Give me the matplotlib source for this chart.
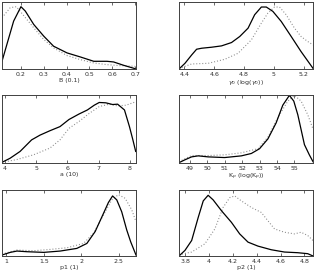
import numpy as np
import matplotlib
matplotlib.use('Agg')
import matplotlib.pyplot as plt

# posterior (solid) and prior (dotted) densities, normalised to axes height
B_x = [0.117, 0.168, 0.2, 0.219, 0.256, 0.3, 0.343, 0.402, 0.46, 0.519, 0.577, 0.606, 0.65, 0.7]
B_y = [0.115, 0.715, 0.93, 0.865, 0.665, 0.49, 0.34, 0.24, 0.18, 0.115, 0.115, 0.105, 0.055, 0.005]
B_px = [0.117, 0.153, 0.18, 0.256, 0.3, 0.343, 0.402, 0.46, 0.519, 0.577, 0.635, 0.7]
B_py = [0.765, 0.915, 0.93, 0.615, 0.44, 0.315, 0.2, 0.14, 0.09, 0.065, 0.05, 0.04]

g_x = [4.364, 4.404, 4.449, 4.482, 4.516, 4.582, 4.649, 4.716, 4.771, 4.827, 4.871, 4.916, 4.949, 4.993, 5.049, 5.116, 5.182, 5.238, 5.262]
g_y = [0.0, 0.085, 0.21, 0.295, 0.31, 0.325, 0.345, 0.395, 0.485, 0.61, 0.81, 0.925, 0.925, 0.86, 0.71, 0.485, 0.26, 0.085, 0.01]
g_px = [4.364, 4.449, 4.56, 4.671, 4.76, 4.849, 4.916, 4.96, 5.004, 5.038, 5.082, 5.138, 5.182, 5.227, 5.262]
g_py = [0.01, 0.075, 0.085, 0.145, 0.235, 0.435, 0.685, 0.835, 0.925, 0.925, 0.81, 0.61, 0.485, 0.41, 0.36]

a_x = [3.9, 4.16, 4.48, 4.85, 5.12, 5.44, 5.76, 6.05, 6.37, 6.64, 6.86, 7.02, 7.23, 7.45, 7.61, 7.83, 7.99, 8.1, 8.19]
a_y = [0.01, 0.07, 0.17, 0.34, 0.41, 0.475, 0.535, 0.64, 0.72, 0.78, 0.85, 0.89, 0.885, 0.86, 0.865, 0.78, 0.535, 0.34, 0.17]
a_px = [3.9, 4.37, 4.91, 5.44, 5.76, 6.05, 6.37, 6.7, 7.02, 7.34, 7.61, 7.88, 8.19]
a_py = [0.01, 0.05, 0.12, 0.22, 0.34, 0.51, 0.61, 0.73, 0.83, 0.865, 0.84, 0.85, 0.9]

K_x = [48.39, 48.73, 49.11, 49.49, 50.06, 51.0, 51.96, 52.53, 53.0, 53.48, 53.95, 54.33, 54.71, 54.96, 55.19, 55.57, 55.85, 56.06]
K_y = [0.005, 0.047, 0.09, 0.105, 0.09, 0.08, 0.105, 0.14, 0.21, 0.355, 0.59, 0.85, 0.995, 0.91, 0.71, 0.27, 0.12, 0.02]
K_px = [48.39, 49.11, 50.06, 51.0, 51.96, 52.91, 53.48, 54.05, 54.62, 55.0, 55.38, 55.76, 56.06]
K_py = [0.02, 0.11, 0.11, 0.12, 0.15, 0.21, 0.38, 0.67, 0.91, 0.995, 0.91, 0.71, 0.5]

p1_x = [0.942, 1.053, 1.142, 1.276, 1.5, 1.72, 1.942, 2.076, 2.187, 2.298, 2.364, 2.42, 2.476, 2.542, 2.609, 2.662, 2.733]
p1_y = [0.015, 0.055, 0.075, 0.065, 0.055, 0.075, 0.115, 0.19, 0.37, 0.645, 0.81, 0.91, 0.85, 0.67, 0.395, 0.215, 0.015]
p1_px = [0.942, 1.142, 1.364, 1.587, 1.81, 2.031, 2.164, 2.298, 2.409, 2.498, 2.587, 2.676, 2.733]
p1_py = [0.03, 0.09, 0.08, 0.1, 0.125, 0.19, 0.345, 0.62, 0.85, 0.93, 0.875, 0.7, 0.52]

p2_x = [3.75, 3.8, 3.856, 3.911, 3.953, 3.994, 4.036, 4.106, 4.189, 4.258, 4.328, 4.411, 4.522, 4.633, 4.744, 4.828, 4.872]
p2_y = [0.0, 0.085, 0.235, 0.585, 0.835, 0.92, 0.85, 0.685, 0.51, 0.335, 0.21, 0.15, 0.095, 0.06, 0.05, 0.035, 0.0]
p2_px = [3.75, 3.856, 3.967, 4.05, 4.119, 4.175, 4.217, 4.272, 4.356, 4.439, 4.494, 4.55, 4.633, 4.717, 4.772, 4.828, 4.872]
p2_py = [0.02, 0.06, 0.185, 0.41, 0.735, 0.885, 0.91, 0.835, 0.735, 0.66, 0.535, 0.41, 0.36, 0.335, 0.36, 0.31, 0.235]

panels = [
    (B_x, B_y, B_px, B_py, (0.117, 0.704), [0.2, 0.3, 0.4, 0.5, 0.6, 0.7], 'B (0.1)'),
    (g_x, g_y, g_px, g_py, (4.364, 5.262), [4.4, 4.6, 4.8, 5.0, 5.2], r'$\gamma_0$ (log($\gamma_0$))'),
    (a_x, a_y, a_px, a_py, (3.9, 8.2), [4, 5, 6, 7, 8], 'a (10)'),
    (K_x, K_y, K_px, K_py, (48.39, 56.06), [49, 50, 51, 52, 53, 54, 55], r'K$_p$ (log(K$_p$))'),
    (p1_x, p1_y, p1_px, p1_py, (0.942, 2.733), [1, 1.5, 2, 2.5], 'p1 (1)'),
    (p2_x, p2_y, p2_px, p2_py, (3.75, 4.872), [3.8, 4.0, 4.2, 4.4, 4.6, 4.8], 'p2 (1)'),
]
tick_labels = [
    ['0.2', '0.3', '0.4', '0.5', '0.6', '0.7'],
    ['4.4', '4.6', '4.8', '5', '5.2'],
    ['4', '5', '6', '7', '8'],
    ['49', '50', '51', '52', '53', '54', '55'],
    ['1', '1.5', '2', '2.5'],
    ['3.8', '4', '4.2', '4.4', '4.6', '4.8'],
]

W, H = 316, 273
fig = plt.figure(figsize=(W/100, H/100), dpi=100)

# axes boxes in pixels: (left, top, right, bottom)
lefts = [2, 179]
rows = [(2, 69), (95, 163), (190, 256)]

for i, (x, y, px, py, xl, ticks, lab) in enumerate(panels):
    r, c = divmod(i, 2)
    l = lefts[c]
    t, b = rows[r]
    ax = fig.add_axes([l/W, 1 - b/H, 134/W, (b - t)/H])
    ax.plot(px, py, color='#8a8a8a', lw=0.8, dashes=(0.9, 1.8))
    ax.plot(x, y, '-', color='k', lw=0.9)
    ax.set_xlim(xl)
    ax.set_ylim(0, 1)
    ax.set_yticks([])
    ax.set_xticks(ticks)
    ax.set_xticklabels(tick_labels[i])
    ax.tick_params(axis='x', direction='in', length=2, width=0.5, top=True,
                   labelsize=4.5, pad=2, colors='#303030')
    ax.set_xlabel(lab, fontsize=4.5, labelpad=1, color='#303030')
    for s in ax.spines.values():
        s.set_color('#404040')
        s.set_linewidth(0.7)

fig.savefig('out.png', dpi=100)
